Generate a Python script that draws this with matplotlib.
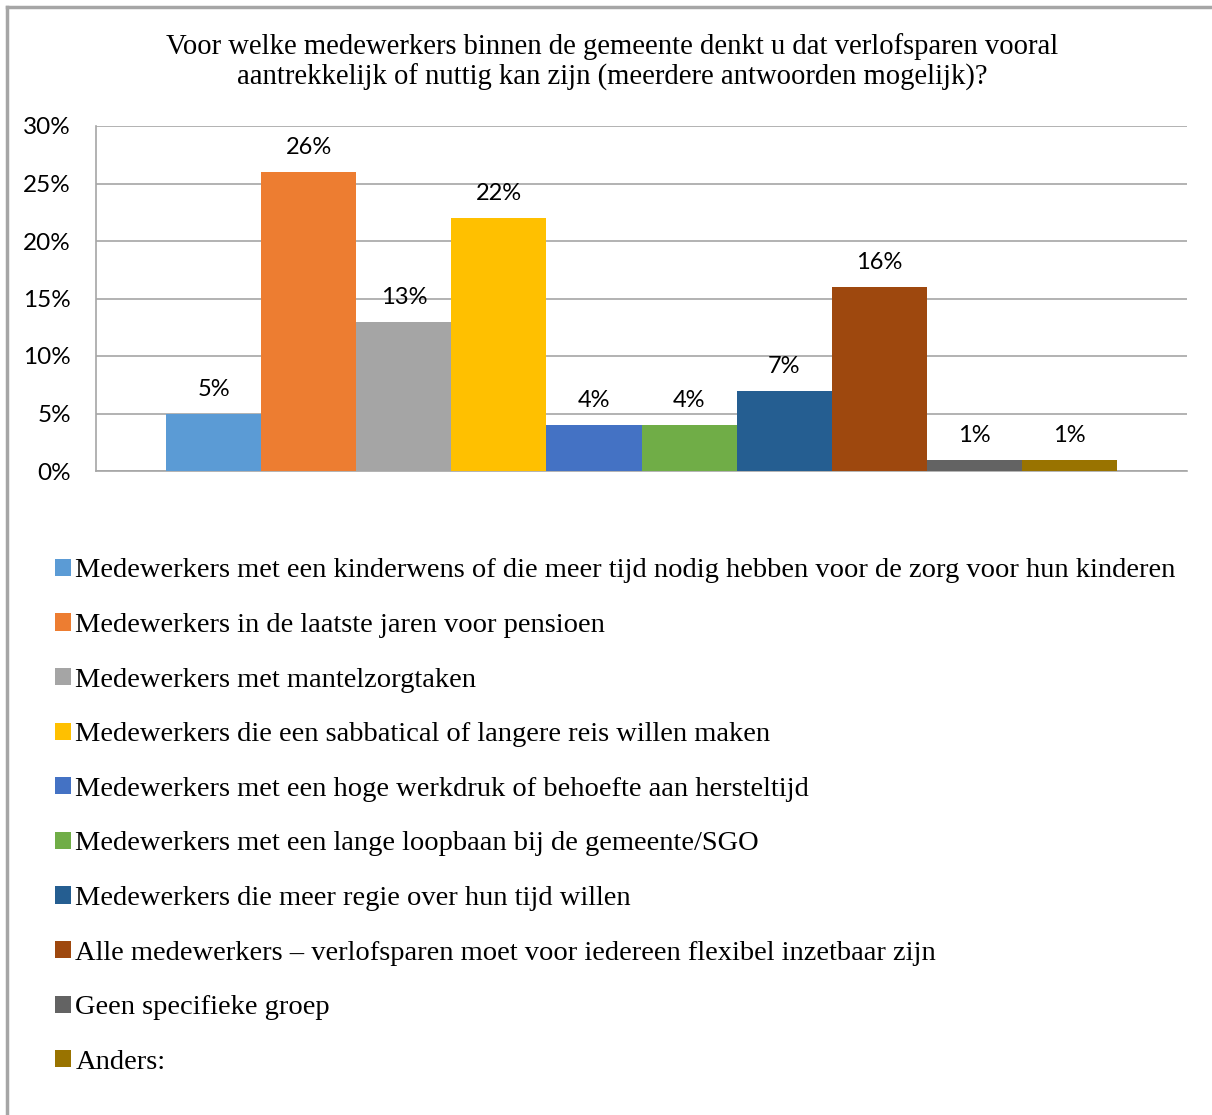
import matplotlib.pyplot as plt
from matplotlib.lines import Line2D
from matplotlib.patches import Patch
from matplotlib.ticker import FuncFormatter

title = ("Voor welke medewerkers binnen de gemeente denkt u dat verlofsparen vooral\n"
         "aantrekkelijk of nuttig kan zijn (meerdere antwoorden mogelijk)?")

groups = [
    "Medewerkers met een kinderwens of die meer tijd nodig hebben voor de zorg voor hun kinderen",
    "Medewerkers in de laatste jaren voor pensioen",
    "Medewerkers met mantelzorgtaken",
    "Medewerkers die een sabbatical of langere reis willen maken",
    "Medewerkers met een hoge werkdruk of behoefte aan hersteltijd",
    "Medewerkers met een lange loopbaan bij de gemeente/SGO",
    "Medewerkers die meer regie over hun tijd willen",
    "Alle medewerkers \u2013 verlofsparen moet voor iedereen flexibel inzetbaar zijn",
    "Geen specifieke groep",
    "Anders:",
]
shares = [5, 26, 13, 22, 4, 4, 7, 16, 1, 1]
colors = ["#5B9BD5", "#ED7D31", "#A5A5A5", "#FFC000", "#4472C4",
          "#70AD47", "#255E91", "#9E480E", "#636363", "#997300"]

serif = "Liberation Serif"
sans = "Lato"

fig = plt.figure(figsize=(12.12, 11.15), dpi=100)
ax = fig.add_axes([96 / 1212, 1 - 471 / 1115, 1091 / 1212, 345 / 1115])

xs = list(range(len(shares)))
bars = ax.bar(xs, shares, width=1.0, color=colors, zorder=3)
for x, v in zip(xs, shares):
    ax.annotate(f"{v}%", (x, v), xytext=(0, 10), textcoords="offset points",
                ha="center", va="bottom", fontsize=17, family=sans)

ax.set_xlim(-1.237, 10.237)
ax.set_ylim(0, 30)
ax.set_yticks(range(0, 31, 5))
ax.yaxis.set_major_formatter(FuncFormatter(lambda v, _: f"{v:.0f}%"))
ax.set_xticks([])
ax.tick_params(axis="y", length=0, pad=18, labelsize=17.5)
for lab in ax.get_yticklabels():
    lab.set_family(sans)
ax.grid(axis="y", color="#A6A6A6", linewidth=1.2, zorder=0)
for side in ("top", "right"):
    ax.spines[side].set_visible(False)
for side in ("left", "bottom"):
    ax.spines[side].set_color("#A6A6A6")
    ax.spines[side].set_linewidth(1.2)

fig.text(612 / 1212, 1 - 62 / 1115, title, ha="center", va="center",
         fontsize=20.6, family=serif, linespacing=1.22)

handles = [Patch(facecolor=c, edgecolor="none") for c in colors]
fig.legend(handles, groups, loc="upper left", bbox_to_anchor=(44 / 1212, 1 - 547 / 1115),
           frameon=False, prop={"family": serif, "size": 20.5},
           handlelength=0.55, handleheight=0.55, handletextpad=0.15,
           labelspacing=1.04, borderaxespad=0)

# frame edges along the top and left of the figure
fig.add_artist(Line2D([7 / 1212, 1], [1 - 7 / 1115] * 2, color="#A6A6A6", lw=2.5))
fig.add_artist(Line2D([7 / 1212] * 2, [0, 1 - 7 / 1115], color="#A6A6A6", lw=2.5))

fig.savefig("out.png", dpi=100)
